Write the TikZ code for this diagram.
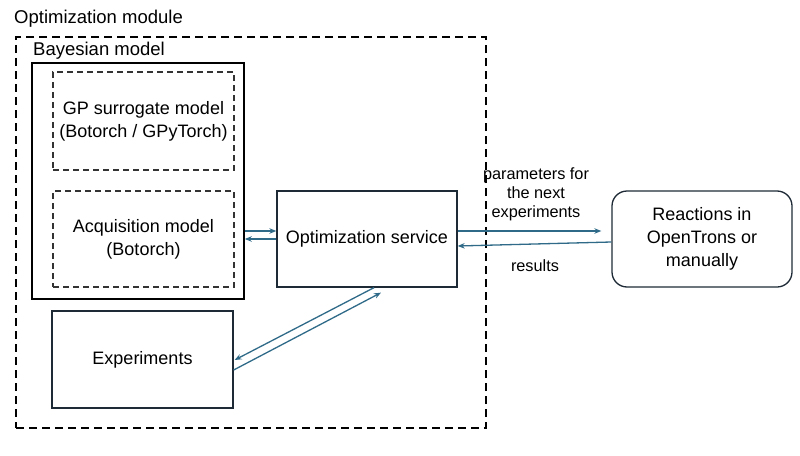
\documentclass[tikz,border=0pt]{standalone}
\usepackage{fontspec}
\setmainfont{Liberation Sans}
\usetikzlibrary{calc,arrows.meta}
\definecolor{teal1}{HTML}{2F6B88}
\definecolor{edge1}{HTML}{1E2A36}
\begin{document}
\begin{tikzpicture}[x=1pt,y=-1pt,
  box/.style={draw=edge1,line width=1.3pt,minimum width=#1,inner sep=0pt,align=center,font=\fontsize{18}{23}\selectfont},
  dbox/.style={draw=black!80,line width=1.2pt,dash pattern=on 6pt off 4pt,inner sep=0pt,align=center,font=\fontsize{18}{23}\selectfont},
  arr/.style={draw=teal1,line width=1.3pt,-{Stealth[length=7pt,width=5.5pt]}},
  lbl/.style={align=center,inner sep=0pt,font=\fontsize{16.3}{19}\selectfont},
  ttl/.style={anchor=west,inner sep=0pt,font=\fontsize{18.5}{22}\selectfont}]
\useasboundingbox (0,0) rectangle (800,455);
\fill[white] (0,0) rectangle (800,455);
% outer module
\node[draw=black,line width=2pt,dash pattern=on 8pt off 5pt,minimum width=470pt,minimum height=391pt,inner sep=0pt] (mod) at (251,232.5) {};
\node[ttl] (modl) at (14,19) {Optimization module};
% Bayesian model
\node[draw=black,line width=1.5pt,minimum width=212pt,minimum height=236pt,inner sep=0pt] (bayes) at (138,181) {};
\node[ttl] (bayesl) at (33,51) {Bayesian model};
\node[dbox,minimum width=181pt,minimum height=98pt] (gp) at (143.5,121) {GP surrogate model\\(Botorch / GPyTorch)};
\node[dbox,minimum width=181pt,minimum height=96pt] (acq) at (143.5,239) {Acquisition model\\(Botorch)};
% service
\node[box=180pt,minimum height=96pt] (opt) at (367,239) {Optimization service};
\node[box=181pt,minimum height=97pt] (exp) at (142.5,359.5) {Experiments};
\node[box=180pt,minimum height=96pt,rounded corners=15pt] (react) at (702,239) {Reactions in\\OpenTrons or\\manually};
% arrows
\draw[arr] ($(bayes.east |- opt.west)+(0,-8)$) -- ($(opt.west)+(0,-8)$);
\draw[arr] (opt.west) -- (bayes.east |- opt.west);
\draw[arr] ($(opt.east)+(0,-8)$) -- ($(react.west)+(-10,-8)$);
\draw[arr] ($(react.west)+(0,3)$) -- ($(opt.east)+(0,7)$);
\draw[arr] ($(opt.south)+(7,0)$) -- ($(exp.east)+(1,0.5)$);
\draw[arr] ($(exp.east)+(0,10.5)$) -- ($(opt.south)+(14,5)$);
\node[lbl] (par) at (536,194) {parameters for\\the next\\experiments};
\node[lbl] (res) at (535,266) {results};
\end{tikzpicture}
\end{document}
